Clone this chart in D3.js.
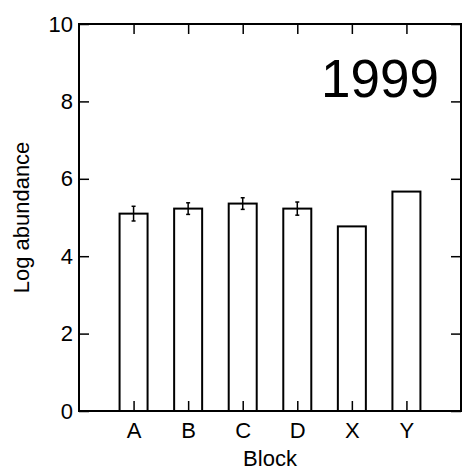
<!DOCTYPE html>
<html>
<head>
<meta charset="utf-8">
<script src="https://cdn.jsdelivr.net/npm/d3@7"></script>
<style>
  body { margin: 0; background: #fff; }
  text { font-family: "Liberation Sans", Arial, sans-serif; fill: #000; }
</style>
</head>
<body>
<div id="chart"></div>
<script>
// data
const blocks = ["A", "B", "C", "D", "X", "Y"];
const logAbundance = [5.10, 5.23, 5.36, 5.23, 4.77, 5.67];
const errors = [0.19, 0.15, 0.15, 0.17, 0, 0];
const yTicks = [0, 2, 4, 6, 8, 10];
const yearLabel = "1999";

const W = 463, H = 473;
const margin = { top: 24, right: 2, bottom: 62, left: 79 };
const width = W - margin.left - margin.right,
  height = H - margin.top - margin.bottom;

const svg = d3.select("#chart")
  .append("svg")
    .attr("width", W)
    .attr("height", H)
  .append("g")
    .attr("transform", `translate(${margin.left},${margin.top})`);

const x = d3.scalePoint()
  .domain(blocks)
  .range([0, width])
  .padding(1);

const y = d3.scaleLinear()
  .domain([0, 10])
  .range([height, 0]);

const barW = 28;
const tickLen = 10;

// bars
svg.selectAll("rect.bar")
  .data(blocks)
  .enter()
  .append("rect")
    .attr("class", "bar")
    .attr("x", d => x(d) - barW / 2)
    .attr("y", (d, i) => y(logAbundance[i]))
    .attr("width", barW)
    .attr("height", (d, i) => height - y(logAbundance[i]))
    .attr("fill", "#fff")
    .attr("stroke", "#000")
    .attr("stroke-width", 2);

// error bars
const eb = svg.selectAll("g.err")
  .data(blocks.filter((d, i) => errors[i] > 0))
  .enter()
  .append("g")
    .attr("class", "err");
eb.append("line")
  .attr("x1", d => x(d)).attr("x2", d => x(d))
  .attr("y1", d => y(logAbundance[blocks.indexOf(d)] - errors[blocks.indexOf(d)]))
  .attr("y2", d => y(logAbundance[blocks.indexOf(d)] + errors[blocks.indexOf(d)]))
  .attr("stroke", "#000").attr("stroke-width", 1.5);
[-1, 1].forEach(s => {
  eb.append("line")
    .attr("x1", d => x(d) - 2).attr("x2", d => x(d) + 2)
    .attr("y1", d => y(logAbundance[blocks.indexOf(d)] + s * errors[blocks.indexOf(d)]))
    .attr("y2", d => y(logAbundance[blocks.indexOf(d)] + s * errors[blocks.indexOf(d)]))
    .attr("stroke", "#000").attr("stroke-width", 1.5);
});

// axes with inward ticks
const axisStyle = g => {
  g.select(".domain").remove();
  g.selectAll("line").attr("stroke", "#000").attr("stroke-width", 1.5);
  g.selectAll("text").style("font-size", "22px");
};

svg.append("g")
  .attr("transform", `translate(0,${height})`)
  .call(d3.axisTop(x).tickSizeInner(tickLen).tickSizeOuter(0).tickFormat(""))
  .call(axisStyle);

svg.append("g")
  .attr("transform", `translate(0,${height})`)
  .call(d3.axisBottom(x).tickSize(0).tickPadding(11))
  .call(axisStyle);

svg.append("g")
  .call(d3.axisBottom(x).tickSizeInner(tickLen).tickSizeOuter(0).tickFormat(""))
  .call(axisStyle);

svg.append("g")
  .call(d3.axisLeft(y).tickValues(yTicks).tickSize(-tickLen).tickPadding(6))
  .call(axisStyle);

svg.append("g")
  .attr("transform", `translate(${width},0)`)
  .call(d3.axisRight(y).tickValues(yTicks).tickSize(-tickLen).tickFormat(""))
  .call(axisStyle);

// frame
svg.append("rect")
  .attr("width", width)
  .attr("height", height)
  .attr("fill", "none")
  .attr("stroke", "#000")
  .attr("stroke-width", 2);

// labels
svg.append("text")
  .attr("x", width / 2)
  .attr("y", height + 55)
  .attr("text-anchor", "middle")
  .style("font-size", "22px")
  .text("Block");

svg.append("text")
  .attr("transform", `translate(${-50},${height / 2}) rotate(-90)`)
  .attr("text-anchor", "middle")
  .style("font-size", "22px")
  .text("Log abundance");

svg.append("text")
  .attr("x", width - 22)
  .attr("y", 73)
  .attr("text-anchor", "end")
  .style("font-size", "53px")
  .text(yearLabel);
</script>
</body>
</html>
